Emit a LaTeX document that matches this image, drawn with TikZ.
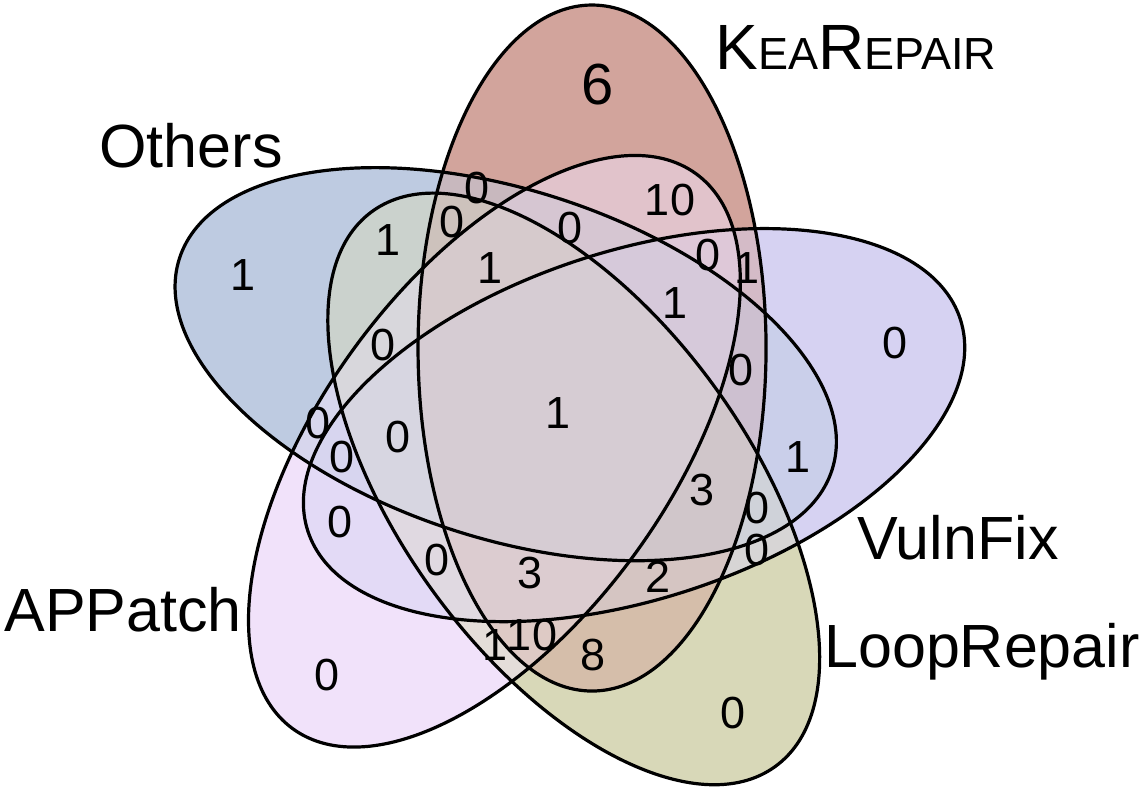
\documentclass[tikz,border=0pt]{standalone}
\usepackage{fontspec}
\setmainfont{Liberation Sans}
\usepackage{tikz}
\usetikzlibrary{positioning}

\definecolor{keacol}{RGB}{210,164,156}
\definecolor{vulncol}{RGB}{214,210,242}
\definecolor{loopcol}{RGB}{216,216,184}
\definecolor{appcol}{RGB}{241,226,250}
\definecolor{othcol}{RGB}{190,203,225}

\tikzset{
	numlabel/.style={font=\fontsize{45}{45}\selectfont, inner sep=0pt},
	setlabel/.style={font=\fontsize{61}{61}\selectfont, inner sep=0pt, anchor=base},
	vennline/.style={draw=black, line width=3.2pt}
}

% clip to set #1 when its bit is on in \n, and mix its colour in
\newcount\regcount
\newcommand\vennpart[2]{%
	\pgfmathtruncatemacro\bit{mod(floor(\n/2^#1),2)}%
	\ifnum\bit=1
		\clip[rotate=90-72*#1] (-25.4:74.7) ellipse (343 and 174);
		\advance\regcount by 1
		\ifnum\regcount=1
			\colorlet{regcol}{#2}%
		\else
			\pgfmathsetmacro\share{100*(\the\regcount-1)/\the\regcount}%
			\colorlet{regcol}{regcol!\share!#2}%
		\fi
	\fi}

\begin{document}
\begin{tikzpicture}[x=1pt,y=1pt]
	\useasboundingbox (0,0) rectangle (1145,-789);

	\begin{scope}[shift={(560,-415.5)}]
		% every region gets the mean colour of its sets
		\foreach \n in {1,...,31}
		{
			\begin{scope}
				\regcount=0
				\vennpart{0}{keacol}
				\vennpart{1}{vulncol}
				\vennpart{2}{loopcol}
				\vennpart{3}{appcol}
				\vennpart{4}{othcol}
				\fill[regcol] (-600,-600) rectangle (600,600);
			\end{scope}
		}
		\foreach \k in {0,...,4}
			{\draw[vennline, rotate=90-72*\k] (-25.4:74.7) ellipse (343 and 174);}
	\end{scope}

	% set names
	\node[setlabel] (kea) at (856,-70) {\fontsize{64}{64}\selectfont K{\fontsize{45}{45}\selectfont EA}R{\fontsize{45}{45}\selectfont EPAIR}};
	\node[setlabel] (oth) at (191,-167) {Others};
	\node[setlabel] (vuln) at (958,-559) {VulnFix};
	\node[setlabel] (app) at (123,-631) {APPatch};
	\node[setlabel] (loop) at (982,-667) {LoopRepair};

	% counts
	\begin{scope}[every node/.style=numlabel]
		\node[font=\fontsize{58}{58}\selectfont] (n1) at (598,-85) {6};
		\node (n2) at (670,-200) {10};
		\node (n3) at (477,-188) {0};
		\node (n4) at (452,-222) {0};
		\node (n5) at (388,-240) {1};
		\node (n6) at (570,-228) {0};
		\node (n7) at (490,-268) {1};
		\node (n8) at (708,-255) {0};
		\node (n9) at (747,-268) {1};
		\node (n10) at (243,-275) {1};
		\node (n11) at (675,-303) {1};
		\node (n12) at (895,-343) {0};
		\node (n13) at (383,-345) {0};
		\node (n14) at (741,-370) {0};
		\node (n15) at (558,-413) {1};
		\node (n16) at (318,-423) {0};
		\node (n17) at (398,-437) {0};
		\node (n18) at (342,-457) {0};
		\node (n19) at (798,-457) {1};
		\node (n20) at (702,-490) {3};
		\node (n21) at (757,-508) {0};
		\node (n22) at (340,-522) {0};
		\node (n23) at (757,-550) {0};
		\node (n24) at (437,-560) {0};
		\node (n25) at (530,-573) {3};
		\node (n26) at (658,-577) {2};
		\node (n27) at (495,-645) {1};
		\node (n28) at (532,-635) {10};
		\node (n29) at (593,-655) {8};
		\node (n30) at (327,-675) {0};
		\node (n31) at (733,-713) {0};
	\end{scope}
\end{tikzpicture}
\end{document}
